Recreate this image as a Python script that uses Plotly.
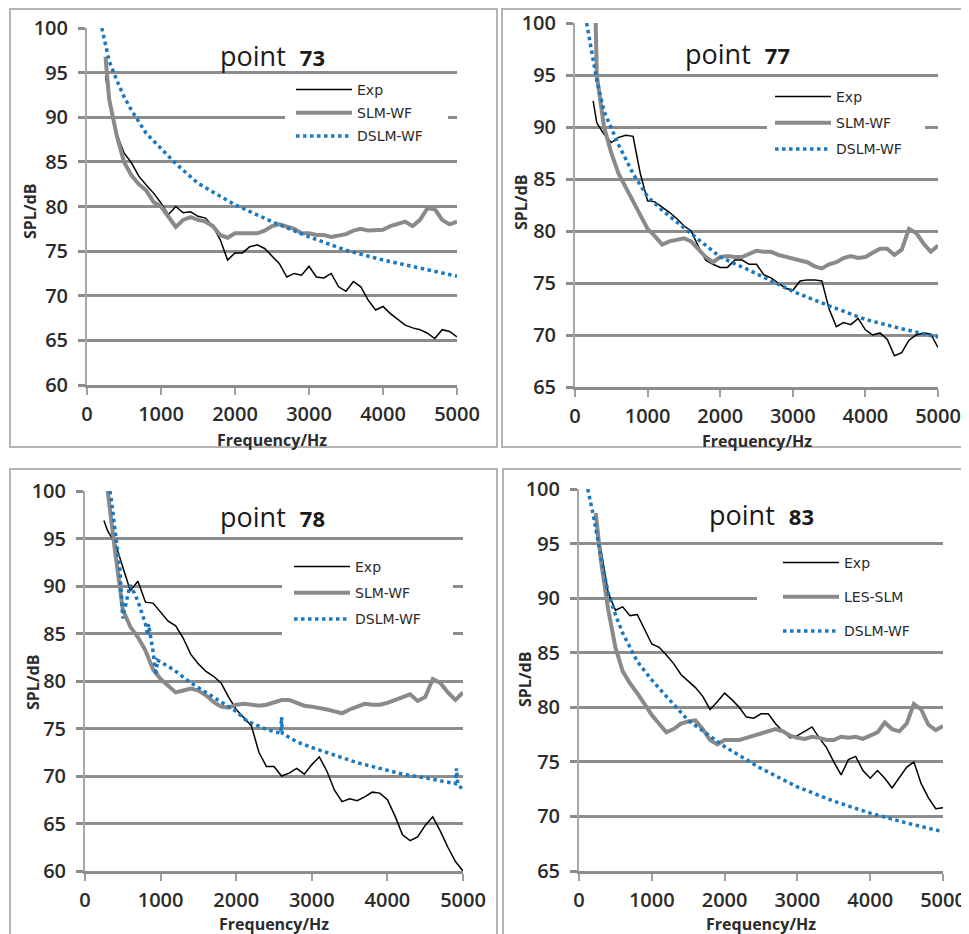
import plotly.graph_objects as go

# page is rendered with an 8 px body margin, so the figure is sized to fit the window
PAGE_W, PAGE_H = 969, 934
OFF = 8
W, H = PAGE_W - OFF, PAGE_H - OFF

# ---------------- data ----------------
F100 = list(range(300, 5001, 100))

# point 73
exp73_f = [250] + F100
exp73 = [94.6, 92.0, 88.2, 86.0, 84.9, 83.4, 82.4, 81.5, 80.4, 79.1, 80.0, 79.3, 79.4, 78.9, 78.7,
         77.8, 76.3, 74.0, 74.8, 74.8, 75.5, 75.7, 75.3, 74.4, 73.6, 72.1, 72.5, 72.3, 73.3, 72.1,
         72.0, 72.5, 71.0, 70.5, 71.6, 71.0, 69.5, 68.4, 68.8, 68.0, 67.3, 66.7, 66.4, 66.2, 65.8,
         65.2, 66.2, 66.0, 65.4]
slm73_f = [250] + F100
slm73 = [96.8, 92.0, 88.0, 85.0, 83.5, 82.5, 81.8, 80.5, 80.0, 78.8, 77.7, 78.5, 78.8, 78.5, 78.3,
         77.8, 76.8, 76.5, 77.0, 77.0, 77.0, 77.0, 77.3, 77.8, 78.0, 77.8, 77.5, 77.0, 77.0, 76.8,
         76.8, 76.6, 76.8, 76.9, 77.3, 77.5, 77.3, 77.3, 77.4, 77.8, 78.0, 78.3, 77.8, 78.5, 79.8,
         79.7, 78.5, 78.0, 78.3]
dslm73_f = [200, 300, 400, 500, 600, 800, 1000, 1200, 1500, 2000, 2500, 3000, 3500, 4000, 4500, 5000]
dslm73 = [100.0, 96.3, 94.2, 92.3, 90.8, 88.2, 86.5, 84.8, 82.6, 80.2, 78.3, 76.6, 75.1, 74.0, 73.1, 72.2]

# point 77
exp77_f = [250] + F100
exp77 = [92.5, 90.4, 89.3, 88.5, 89.0, 89.2, 89.1, 85.5, 82.9, 82.8, 82.3, 81.8, 81.2, 80.5, 80.0,
         78.5, 77.2, 76.8, 76.5, 76.5, 77.2, 77.2, 76.8, 76.8, 75.8, 75.5, 75.0, 74.5, 74.3, 75.2,
         75.3, 75.3, 75.2, 72.5, 70.8, 71.2, 71.0, 71.6, 70.5, 70.0, 70.2, 69.6, 68.0, 68.3, 69.5,
         70.0, 70.2, 70.1, 68.8]
slm77_f = [285] + F100
slm77 = [100.0, 95.0, 90.0, 87.5, 85.5, 84.2, 82.8, 81.5, 80.2, 79.5, 78.7, 79.0, 79.2, 79.3, 79.0,
         78.3, 77.5, 77.0, 77.5, 77.6, 77.5, 77.5, 77.8, 78.1, 78.0, 78.0, 77.7, 77.5, 77.3, 77.2,
         77.0, 76.6, 76.4, 76.8, 77.0, 77.4, 77.6, 77.4, 77.5, 77.9, 78.3, 78.3, 77.7, 78.2, 80.2,
         79.8, 78.8, 78.0, 78.6]
dslm77_f = [160, 300, 400, 500, 600, 800, 1000, 1200, 1500, 2000, 2500, 3000, 3500, 4000, 4500, 5000]
dslm77 = [100.0, 94.5, 91.5, 89.8, 88.3, 85.5, 83.3, 82.0, 80.3, 77.5, 75.9, 74.2, 72.8, 71.5, 70.6, 69.8]

# point 78
exp78_f = [250] + F100
exp78 = [96.9, 95.8, 94.5, 92.0, 89.5, 90.5, 88.3, 88.2, 87.3, 86.3, 85.8, 84.5, 82.8, 81.8, 81.0,
         80.5, 79.8, 78.3, 77.0, 76.2, 75.3, 72.5, 71.0, 71.0, 70.0, 70.3, 70.8, 70.2, 71.2, 72.0,
         70.5, 68.5, 67.3, 67.6, 67.4, 67.8, 68.3, 68.2, 67.5, 65.8, 63.8, 63.2, 63.6, 64.8, 65.7,
         64.2, 62.5, 61.0, 60.0]
slm78_f = [300, 350] + F100[1:]
slm78 = [100.0, 96.5, 93.5, 87.5, 85.7, 84.6, 83.2, 81.2, 80.2, 79.5, 78.8, 79.0, 79.2, 79.0, 78.5,
         77.8, 77.3, 77.2, 77.5, 77.6, 77.5, 77.4, 77.5, 77.8, 78.0, 78.0, 77.7, 77.4, 77.3, 77.2,
         77.0, 76.8, 76.6, 77.0, 77.3, 77.6, 77.5, 77.5, 77.7, 78.0, 78.3, 78.6, 77.9, 78.3, 80.2,
         79.8, 78.8, 78.0, 78.8]
dslm78_f = [330, 350, 400, 460, 500, 595, 650, 705, 800, 830, 840, 900, 940, 957, 1000, 1170, 1400,
            1600, 1790, 2000, 2140, 2400, 2590, 2600, 2610, 2800, 3000, 3300, 3600, 3900, 4200,
            4500, 4650, 4900, 4915, 4930, 5000]
dslm78 = [100.0, 99.0, 95.7, 91.9, 86.6, 90.1, 89.3, 88.3, 86.0, 84.8, 86.0, 83.1, 80.6, 82.2, 82.0,
          81.2, 79.8, 78.8, 77.8, 76.8, 75.8, 74.9, 74.5, 76.2, 74.5, 73.6, 73.0, 72.2, 71.4, 70.8,
          70.2, 69.8, 69.6, 69.2, 70.8, 69.2, 68.5]

# point 83
exp83_f = [230] + F100
exp83 = [96.3, 94.5, 90.5, 88.9, 89.2, 88.4, 88.5, 87.2, 85.8, 85.5, 84.8, 84.0, 83.0, 82.4, 81.8,
         81.0, 79.8, 80.5, 81.3, 80.7, 80.0, 79.1, 79.0, 79.4, 79.4, 78.5, 77.8, 77.2, 77.4, 77.8,
         78.2, 77.2, 76.3, 75.0, 73.8, 75.2, 75.5, 74.2, 73.5, 74.2, 73.5, 72.6, 73.5, 74.5, 75.0,
         73.0, 71.7, 70.7, 70.8]
slm83_f = [230] + F100
slm83 = [97.8, 93.5, 89.0, 85.5, 83.3, 82.2, 81.3, 80.3, 79.3, 78.5, 77.7, 78.0, 78.5, 78.7, 78.8,
         78.0, 77.0, 76.6, 77.0, 77.0, 77.0, 77.2, 77.4, 77.6, 77.8, 78.0, 77.8, 77.4, 77.2, 77.1,
         77.3, 77.2, 77.0, 77.0, 77.3, 77.2, 77.3, 77.1, 77.4, 77.7, 78.6, 78.0, 77.8, 78.5, 80.3,
         79.8, 78.4, 77.9, 78.3]
dslm83_f = [120, 200, 300, 400, 500, 600, 800, 1000, 1200, 1500, 2000, 2500, 3000, 3500, 4000, 4500, 5000]
dslm83 = [100.0, 97.5, 93.8, 90.5, 88.5, 86.8, 84.2, 82.5, 81.0, 78.8, 76.4, 74.4, 72.7, 71.4, 70.3, 69.4, 68.6]

TITLES = ["73", "77", "78", "83"]
NAMES = [["Exp", "SLM-WF", "DSLM-WF"], ["Exp", "SLM-WF", "DSLM-WF"],
         ["Exp", "SLM-WF", "DSLM-WF"], ["Exp", "LES-SLM", "DSLM-WF"]]
YRANGES = [[60, 100], [65, 100], [60, 100], [65, 100]]
X_RANGE = [0, 5000]
X_TICKS = [0, 1000, 2000, 3000, 4000, 5000]

SERIES = [
    [(exp73_f, exp73), (slm73_f, slm73), (dslm73_f, dslm73)],
    [(exp77_f, exp77), (slm77_f, slm77), (dslm77_f, dslm77)],
    [(exp78_f, exp78), (slm78_f, slm78), (dslm78_f, dslm78)],
    [(exp83_f, exp83), (slm83_f, slm83), (dslm83_f, dslm83)],
]
for panel in SERIES:
    for f, v in panel:
        assert len(f) == len(v), (len(f), len(v))

# ---------------- layout geometry (page pixels) ----------------
PLOT_PX = [  # x0, x1, y0(top), y1(bottom)
    (87, 457, 28, 385),
    (575, 938, 23, 387),
    (85, 463, 491, 871),
    (579, 943, 489, 871),
]
FRAMES = [(10, 9, 497, 447), (502, 9, 967, 447), (10, 469, 497, 940), (503, 469, 967, 940)]
LEGEND_POS = [(291, 74), (770, 81), (289, 551), (778, 547)]
LEGEND_GAP = [2, 5, 5, 13]
# white boxes behind the legends (they interrupt the gridlines)
LEGEND_BOX = [(285, 78, 448, 150), (767, 84, 925, 168), (282, 545, 453, 640), (757, 550, 960, 645)]
TITLE_POS = [(272, 55), (737, 53), (272, 517), (761, 515)]
YTITLE_POS = [(30, 212), (521, 203), (33, 683), (525, 680)]
XTITLE_POS = [(272, 440), (757, 441), (274, 924), (761, 924)]


def px(x):
    return (x - OFF) / W


def py(y):
    return 1 - (y - OFF) / H


GRID = "#8c8c8c"
SLM_C = "#8a8a8a"
BLUE = "#1a78c2"
TXT = "#2b2b2b"
FONT = "Open Sans"

fig = go.Figure()

for i in range(4):
    sfx = "" if i == 0 else str(i + 1)
    xa, ya = "x" + sfx, "y" + sfx
    lg = "legend" + sfx
    styles = [
        dict(color="black", width=1.5),
        dict(color=SLM_C, width=4),
        dict(color=BLUE, width=3.5, dash="dot"),
    ]
    for k, (f, v) in enumerate(SERIES[i]):
        fig.add_trace(go.Scatter(
            x=f, y=v, mode="lines", name=NAMES[i][k], line=styles[k],
            xaxis=xa, yaxis=ya, legend=lg, legendgroup=f"g{i}{k}",
        ))
    x0, x1, y0, y1 = PLOT_PX[i]
    ymin, ymax = YRANGES[i]
    fig.layout["xaxis" + sfx] = dict(
        domain=[px(x0), px(x1)], anchor=ya, range=X_RANGE, automargin=False,
        tickvals=X_TICKS, ticks="outside", ticklen=7, tickwidth=2, tickcolor="#a0a0a0",
        showline=True, linecolor=GRID, linewidth=3, showgrid=False, zeroline=False,
        tickfont=dict(family=FONT, size=20, color=TXT, weight=600), ticklabelstandoff=2,
    )
    fig.layout["yaxis" + sfx] = dict(
        domain=[py(y1), py(y0)], anchor=xa, range=YRANGES[i], dtick=5, automargin=False,
        ticks="outside", ticklen=7, tickwidth=3, tickcolor=GRID,
        showline=True, linecolor="#a6a6a6", linewidth=2,
        showgrid=True, gridcolor=GRID, gridwidth=3, zeroline=False,
        tickfont=dict(family=FONT, size=20, color=TXT, weight=600), ticklabelstandoff=6,
    )
    lx, ly = LEGEND_POS[i]
    fig.layout[lg] = dict(
        x=px(lx), y=py(ly), xanchor="left", yanchor="top", xref="paper", yref="paper",
        bgcolor="rgba(0,0,0,0)", borderwidth=0,
        font=dict(family="DejaVu Sans", size=14, color=TXT),
        itemwidth=56, traceorder="grouped", tracegroupgap=LEGEND_GAP[i],
    )
    # white box behind the legend: pixel box converted to the panel's axis units
    bx0, by0, bx1, by1 = LEGEND_BOX[i]

    def hz(p):
        return X_RANGE[0] + (p - x0) / (x1 - x0) * (X_RANGE[1] - X_RANGE[0])

    def db(p):
        return ymax - (p - y0) / (y1 - y0) * (ymax - ymin)

    fig.add_shape(type="rect", xref=xa, yref=ya, x0=hz(bx0), x1=hz(bx1), y0=db(by1), y1=db(by0),
                  fillcolor="white", line=dict(width=0), layer="between")

    tx, ty = TITLE_POS[i]
    fig.add_annotation(
        x=px(tx), y=py(ty), xref="paper", yref="paper", showarrow=False,
        xanchor="center", yanchor="middle",
        text=f"point&nbsp; <b><span style='font-size:22px'>{TITLES[i]}</span></b>",
        font=dict(family=FONT, size=27, color="#1a1a1a"),
    )
    yx, yy = YTITLE_POS[i]
    fig.add_annotation(
        x=px(yx), y=py(yy), xref="paper", yref="paper", showarrow=False, textangle=-90,
        xanchor="center", yanchor="middle",
        text="<b>SPL/dB</b>", font=dict(family=FONT, size=16, color=TXT),
    )
    xx, xy = XTITLE_POS[i]
    fig.add_annotation(
        x=px(xx), y=py(xy), xref="paper", yref="paper", showarrow=False,
        xanchor="center", yanchor="middle",
        text="<b>Frequency/Hz</b>", font=dict(family=FONT, size=16, color=TXT),
    )
    fx0, fy0, fx1, fy1 = FRAMES[i]
    fig.add_shape(type="rect", xref="paper", yref="paper",
                  x0=px(fx0), x1=px(fx1), y0=py(fy1), y1=py(fy0),
                  line=dict(color="#b4b4b4", width=2), fillcolor="rgba(0,0,0,0)", layer="below")

fig.update_layout(
    template="none",
    width=W, height=H, margin=dict(l=0, r=0, t=0, b=0, autoexpand=False),
    paper_bgcolor="white", plot_bgcolor="white", showlegend=True,
)

fig.write_html("out.html")
